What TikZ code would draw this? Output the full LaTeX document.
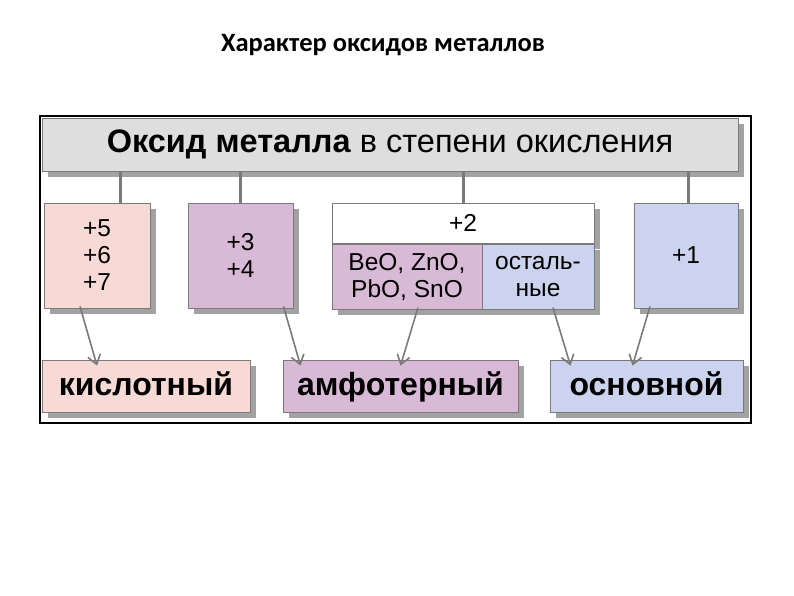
\documentclass[tikz,border=0pt]{standalone}
\usepackage{fontspec}
\setmainfont{Liberation Sans}
\newfontfamily\titlefont{Carlito}
\usetikzlibrary{arrows.meta,shadows}
\definecolor{hdr}{HTML}{DEDEDE}
\definecolor{pinkc}{HTML}{F7D9D5}
\definecolor{purc}{HTML}{D9BAD6}
\definecolor{bluec}{HTML}{CCD3EE}
\definecolor{shd}{HTML}{A2A2A2}
\definecolor{lnc}{HTML}{7A7A7A}
\tikzset{
 box/.style={draw=lnc,line width=0.8pt,inner sep=0pt,align=center,font=\fontsize{24.5}{27}\selectfont,
   drop shadow={shadow xshift=6pt,shadow yshift=-6pt,opacity=1,fill=shd}},
 res/.style={box,font=\fontsize{32}{34}\selectfont\bfseries,minimum height=52pt,text height=22pt,text depth=4pt},
 stem/.style={draw=lnc,line width=3pt},
 arr/.style={draw=lnc,line width=1.6pt,-{Straight Barb[length=9pt,width=13pt]}}
}
\begin{document}
\begin{tikzpicture}[x=1pt,y=-1pt]
\path[use as bounding box] (0,0) rectangle (794,595);
\node[font=\titlefont\fontsize{26.5}{30}\selectfont\bfseries] (title) at (383,45) {Характер оксидов металлов};
\draw[line width=1.5pt] (40,116) rectangle (751,423);
\node[box,fill=hdr,minimum width=696pt,minimum height=53pt,font=\fontsize{32.5}{36}\selectfont] (h) at (390,144.5) {\textbf{Оксид металла} в степени окисления};
\node[box,fill=pinkc,minimum width=106pt,minimum height=105pt] (b1) at (97,255.5) {+5\\+6\\+7};
\node[box,fill=purc,minimum width=105pt,minimum height=105pt] (b2) at (240.5,255.5) {+3\\+4};
\node[box,fill=white,minimum width=262pt,minimum height=40pt,anchor=north] (b3) at (463,203) {+2};
\node[box,fill=purc,minimum width=150pt,minimum height=65pt,anchor=north west,drop shadow={opacity=0}] (b3a) at (b3.south west) {BeO, ZnO,\\PbO, SnO};
\node[box,fill=bluec,minimum width=112pt,minimum height=65pt,anchor=north east] (b3b) at (b3.south east) {осталь-\\ные};
\node[box,fill=bluec,minimum width=104pt,minimum height=105pt] (b4) at (686,255.5) {+1};
\node[res,fill=pinkc,minimum width=208pt] (k) at (146,386) {кислотный};
\node[res,fill=purc,minimum width=235pt] (a) at (400.5,386) {амфотерный};
\node[res,fill=bluec,minimum width=193pt] (o) at (646.5,386) {основной};
\draw[stem] (120,172) -- (b1.north -| 120,0);
\draw[stem] (240,172) -- (b2.north -| 240,0);
\draw[stem] (463,172) -- (b3.north);
\draw[stem] (688,172) -- (b4.north -| 688,0);
\draw[arr] ([xshift=-17pt,yshift=2pt]b1.south) -- ([xshift=-49pt,yshift=-6pt]k.north);
\draw[arr] ([xshift=43pt,yshift=2pt]b2.south) -- ([xshift=-100pt,yshift=-6pt]a.north);
\draw[arr] ([xshift=11pt,yshift=2pt]b3a.south) -- ([xshift=0pt,yshift=-6pt]a.north);
\draw[arr] ([xshift=15pt,yshift=2pt]b3b.south) -- ([xshift=-76pt,yshift=-6pt]o.north);
\draw[arr] ([xshift=-36pt,yshift=2pt]b4.south) -- ([xshift=-14pt,yshift=-6pt]o.north);
\end{tikzpicture}
\end{document}
